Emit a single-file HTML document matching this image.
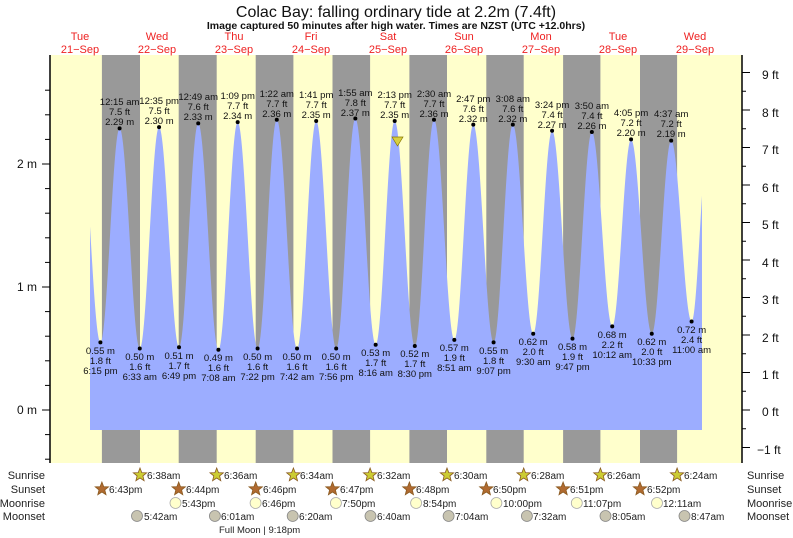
<!DOCTYPE html>
<html><head><meta charset="utf-8"><style>
body{margin:0;background:#fff;}
svg{display:block;font-family:"Liberation Sans",sans-serif;}
.hl text,.ll text{font-size:9.5px;text-anchor:middle;fill:#111;}
.bt{font-size:10px;fill:#222;}
</style></head><body>
<svg width="793" height="538" viewBox="0 0 793 538" xmlns="http://www.w3.org/2000/svg">
<rect x="50" y="55" width="692" height="408" fill="#ffffcc"/>
<g fill="#999999">
<rect x="101.9" y="55" width="38.1" height="408"/>
<rect x="178.7" y="55" width="38" height="408"/>
<rect x="255.7" y="55" width="37.7" height="408"/>
<rect x="332.5" y="55" width="37.6" height="408"/>
<rect x="409.4" y="55" width="37.6" height="408"/>
<rect x="486.3" y="55" width="37.4" height="408"/>
<rect x="563.1" y="55" width="37.3" height="408"/>
<rect x="640" y="55" width="37.1" height="408"/>
</g>
<path id="tide" fill="#9cadff" d=""/>
<line x1="50" y1="55" x2="50" y2="463" stroke="#000" stroke-width="1.5"/>
<line x1="742" y1="55" x2="742" y2="463" stroke="#000" stroke-width="1.5"/>
<g id="ticks" stroke="#000" stroke-width="1"></g>
<g font-size="12" fill="#111" text-anchor="end">
<text x="37" y="168">2 m</text><text x="37" y="291">1 m</text><text x="37" y="414">0 m</text>
</g>
<g font-size="12" fill="#111">
<text x="762" y="79">9 ft</text><text x="762" y="117">8 ft</text><text x="762" y="154">7 ft</text>
<text x="762" y="192">6 ft</text><text x="762" y="229">5 ft</text><text x="762" y="267">4 ft</text>
<text x="762" y="304">3 ft</text><text x="762" y="342">2 ft</text><text x="762" y="379">1 ft</text>
<text x="762" y="416">0 ft</text><text x="757" y="454">−1 ft</text>
</g>
<text x="396" y="17" font-size="16" text-anchor="middle" fill="#111">Colac Bay: falling  ordinary tide at 2.2m (7.4ft)</text>
<text x="396" y="29" font-size="10.5" font-weight="bold" text-anchor="middle" fill="#111">Image captured 50 minutes after high water. Times are NZST (UTC +12.0hrs)</text>
<g font-size="11" fill="#ee2222" text-anchor="middle">
<text x="80" y="40">Tue</text><text x="80" y="53">21−Sep</text>
<text x="157" y="40">Wed</text><text x="157" y="53">22−Sep</text>
<text x="234" y="40">Thu</text><text x="234" y="53">23−Sep</text>
<text x="311" y="40">Fri</text><text x="311" y="53">24−Sep</text>
<text x="388" y="40">Sat</text><text x="388" y="53">25−Sep</text>
<text x="464" y="40">Sun</text><text x="464" y="53">26−Sep</text>
<text x="541" y="40">Mon</text><text x="541" y="53">27−Sep</text>
<text x="618" y="40">Tue</text><text x="618" y="53">28−Sep</text>
<text x="695" y="40">Wed</text><text x="695" y="53">29−Sep</text>
</g>
<g class="hl">
<text x="119.6" y="105">12:15 am</text><text x="119.6" y="115">7.5 ft</text><text x="119.6" y="125">2.29 m</text>
<text x="159.1" y="104">12:35 pm</text><text x="159.1" y="114">7.5 ft</text><text x="159.1" y="124">2.30 m</text>
<text x="198.2" y="100">12:49 am</text><text x="198.2" y="110">7.6 ft</text><text x="198.2" y="120">2.33 m</text>
<text x="237.7" y="99">1:09 pm</text><text x="237.7" y="109">7.7 ft</text><text x="237.7" y="119">2.34 m</text>
<text x="276.8" y="97">1:22 am</text><text x="276.8" y="107">7.7 ft</text><text x="276.8" y="117">2.36 m</text>
<text x="316.2" y="98">1:41 pm</text><text x="316.2" y="108">7.7 ft</text><text x="316.2" y="118">2.35 m</text>
<text x="355.3" y="96">1:55 am</text><text x="355.3" y="106">7.8 ft</text><text x="355.3" y="116">2.37 m</text>
<text x="394.7" y="98">2:13 pm</text><text x="394.7" y="108">7.7 ft</text><text x="394.7" y="118">2.35 m</text>
<text x="434" y="97">2:30 am</text><text x="434" y="107">7.7 ft</text><text x="434" y="117">2.36 m</text>
<text x="473.3" y="102">2:47 pm</text><text x="473.3" y="112">7.6 ft</text><text x="473.3" y="122">2.32 m</text>
<text x="512.8" y="102">3:08 am</text><text x="512.8" y="112">7.6 ft</text><text x="512.8" y="122">2.32 m</text>
<text x="552.1" y="108">3:24 pm</text><text x="552.1" y="118">7.4 ft</text><text x="552.1" y="128">2.27 m</text>
<text x="591.9" y="109">3:50 am</text><text x="591.9" y="119">7.4 ft</text><text x="591.9" y="129">2.26 m</text>
<text x="631.1" y="116">4:05 pm</text><text x="631.1" y="126">7.2 ft</text><text x="631.1" y="136">2.20 m</text>
<text x="671.2" y="117">4:37 am</text><text x="671.2" y="127">7.2 ft</text><text x="671.2" y="137">2.19 m</text>
</g>
<g class="ll">
<text x="100.4" y="354">0.55 m</text><text x="100.4" y="364">1.8 ft</text><text x="100.4" y="374">6:15 pm</text>
<text x="139.8" y="360">0.50 m</text><text x="139.8" y="370">1.6 ft</text><text x="139.8" y="380">6:33 am</text>
<text x="179" y="359">0.51 m</text><text x="179" y="369">1.7 ft</text><text x="179" y="379">6:49 pm</text>
<text x="218.4" y="361">0.49 m</text><text x="218.4" y="371">1.6 ft</text><text x="218.4" y="381">7:08 am</text>
<text x="257.6" y="360">0.50 m</text><text x="257.6" y="370">1.6 ft</text><text x="257.6" y="380">7:22 pm</text>
<text x="297" y="360">0.50 m</text><text x="297" y="370">1.6 ft</text><text x="297" y="380">7:42 am</text>
<text x="336.2" y="360">0.50 m</text><text x="336.2" y="370">1.6 ft</text><text x="336.2" y="380">7:56 pm</text>
<text x="375.7" y="356">0.53 m</text><text x="375.7" y="366">1.7 ft</text><text x="375.7" y="376">8:16 am</text>
<text x="414.8" y="357">0.52 m</text><text x="414.8" y="367">1.7 ft</text><text x="414.8" y="377">8:30 pm</text>
<text x="454.3" y="351">0.57 m</text><text x="454.3" y="361">1.9 ft</text><text x="454.3" y="371">8:51 am</text>
<text x="493.6" y="354">0.55 m</text><text x="493.6" y="364">1.8 ft</text><text x="493.6" y="374">9:07 pm</text>
<text x="533.2" y="345">0.62 m</text><text x="533.2" y="355">2.0 ft</text><text x="533.2" y="365">9:30 am</text>
<text x="572.5" y="350">0.58 m</text><text x="572.5" y="360">1.9 ft</text><text x="572.5" y="370">9:47 pm</text>
<text x="612.2" y="338">0.68 m</text><text x="612.2" y="348">2.2 ft</text><text x="612.2" y="358">10:12 am</text>
<text x="651.8" y="345">0.62 m</text><text x="651.8" y="355">2.0 ft</text><text x="651.8" y="365">10:33 pm</text>
<text x="691.6" y="333">0.72 m</text><text x="691.6" y="343">2.4 ft</text><text x="691.6" y="353">11:00 am</text>
</g>
<g id="dots" fill="#000"></g>
<polygon points="392,137 403,137 397.5,146" fill="#d8d040" stroke="#887700" stroke-width="0.7"/>
<g font-size="11" fill="#222" text-anchor="end">
<text x="45" y="479">Sunrise</text><text x="45" y="493">Sunset</text><text x="45" y="507">Moonrise</text><text x="45" y="520">Moonset</text>
</g>
<g font-size="11" fill="#222">
<text x="747" y="479">Sunrise</text><text x="747" y="493">Sunset</text><text x="747" y="507">Moonrise</text><text x="747" y="520">Moonset</text>
</g>
<g id="icons"></g>
<g class="bt">
<text x="147" y="479">6:38am</text><text x="224" y="479">6:36am</text><text x="300" y="479">6:34am</text><text x="377" y="479">6:32am</text>
<text x="454" y="479">6:30am</text><text x="531" y="479">6:28am</text><text x="607" y="479">6:26am</text><text x="684" y="479">6:24am</text>
<text x="109" y="493">6:43pm</text><text x="186" y="493">6:44pm</text><text x="263" y="493">6:46pm</text><text x="340" y="493">6:47pm</text>
<text x="416" y="493">6:48pm</text><text x="493" y="493">6:50pm</text><text x="570" y="493">6:51pm</text><text x="647" y="493">6:52pm</text>
<text x="182" y="507">5:43pm</text><text x="262" y="507">6:46pm</text><text x="342" y="507">7:50pm</text><text x="423" y="507">8:54pm</text>
<text x="503" y="507">10:00pm</text><text x="583" y="507">11:07pm</text><text x="663" y="507">12:11am</text>
<text x="144" y="520">5:42am</text><text x="221" y="520">6:01am</text><text x="299" y="520">6:20am</text><text x="377" y="520">6:40am</text>
<text x="455" y="520">7:04am</text><text x="533" y="520">7:32am</text><text x="612" y="520">8:05am</text><text x="691" y="520">8:47am</text>
</g>
<text x="219" y="533" font-size="9.5" fill="#222">Full Moon | 9:18pm</text>
</svg>
<script>
var ex=[[12.1,2.28],[18.25,.55],[24.25,2.29],[30.55,.50],[36.58,2.30],[42.82,.51],[48.82,2.33],[55.13,.49],[61.15,2.34],[67.37,.50],[73.37,2.36],[79.7,.50],[85.68,2.35],[91.93,.50],[97.92,2.37],[104.27,.53],[110.22,2.35],[116.5,.52],[122.5,2.36],[128.85,.57],[134.78,2.32],[141.12,.55],[147.13,2.32],[153.5,.62],[159.4,2.27],[165.78,.58],[171.83,2.26],[178.2,.68],[184.08,2.20],[190.55,.62],[196.62,2.19],[203,.72],[208.2,2.2]];
function X(t){return 42+t*3.2}function Y(m){return 410-m*123}
function h(t){for(var i=0;i<ex.length-1;i++){if(t<=ex[i+1][0]){var a=ex[i],b=ex[i+1],f=(t-a[0])/(b[0]-a[0]);return a[1]+(b[1]-a[1])*(1-Math.cos(Math.PI*f))/2;}}return ex[ex.length-1][1];}
var d="M90,430";for(var x=90;x<=702;x+=0.5){d+=" L"+x+","+Y(h((x-42)/3.2)).toFixed(1);}d+=" L702,430 Z";
document.getElementById('tide').setAttribute('d',d);
var dots="";for(var i=1;i<ex.length-1;i++)dots+='<circle cx="'+X(ex[i][0])+'" cy="'+Y(ex[i][1])+'" r="2"/>';
document.getElementById('dots').innerHTML=dots;
var tk="";for(var m=-0.4;m<=2.8;m+=0.2){var y=Y(m);var maj=Math.abs(m-Math.round(m))<0.01;tk+='<line x1="'+(maj?42:45)+'" y1="'+y+'" x2="50" y2="'+y+'"/>';}
for(var f=-1.5;f<=9.5;f+=0.5){var y=410-f*37.5;if(y<55||y>463)continue;var maj=Math.abs(f-Math.round(f))<0.01;tk+='<line x1="742" y1="'+y+'" x2="'+(maj?750:746)+'" y2="'+y+'"/>';}
document.getElementById('ticks').innerHTML=tk;
function star(cx,cy,fill){var p="";for(var k=0;k<10;k++){var r=k%2?3:7,a=-Math.PI/2+k*Math.PI/5;p+=(cx+r*Math.cos(a)).toFixed(1)+","+(cy+r*Math.sin(a)).toFixed(1)+" ";}return '<polygon points="'+p+'" fill="'+fill+'" stroke="#8a5a20" stroke-width="0.8"/>';}
var ic="";[140,216.7,293.4,370.1,447,523.7,600.4,677.1].forEach(function(x){ic+=star(x,475,"#cccc33");});
[101.9,178.7,255.7,332.5,409.4,486.3,563.1,640].forEach(function(x){ic+=star(x,489,"#b06a30");});
[175.5,255.6,335.9,416.1,496.4,576.8,657].forEach(function(x){ic+='<circle cx="'+x+'" cy="503" r="5.5" fill="#ffffcc" stroke="#aaa" stroke-width="0.8"/>';});
[137,214.9,292.7,370.5,448.6,526.9,605.5,684.5].forEach(function(x){ic+='<circle cx="'+x+'" cy="516" r="5.5" fill="#c8c4b0" stroke="#888" stroke-width="0.8"/>';});
document.getElementById('icons').innerHTML=ic;
</script>
</body></html>
